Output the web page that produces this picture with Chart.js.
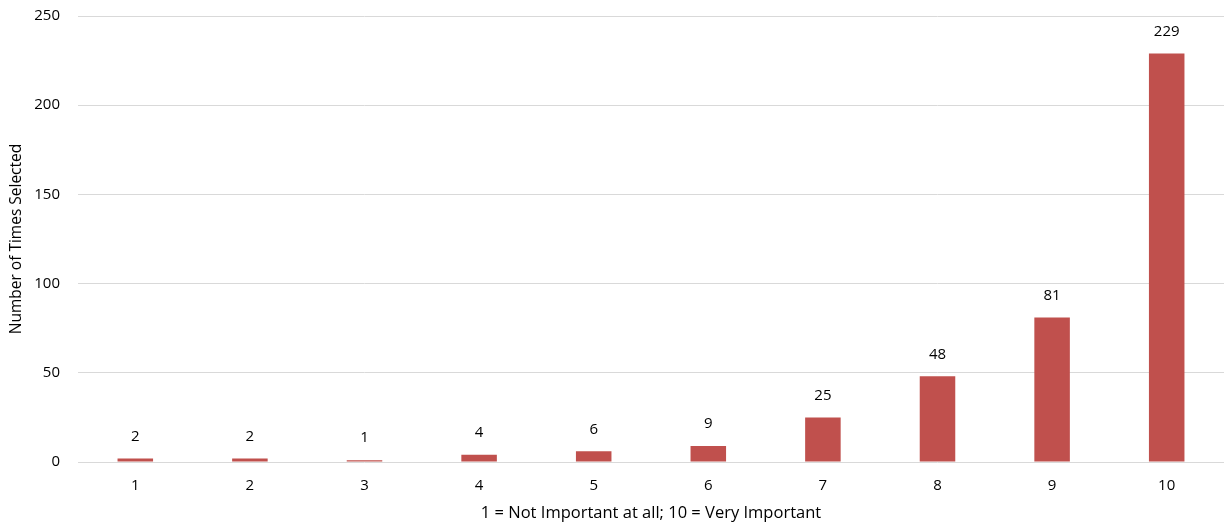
<!DOCTYPE html>
<html>
<head>
<meta charset="utf-8">
<script src="https://cdn.jsdelivr.net/npm/chart.js@4/dist/chart.umd.min.js"></script>
<style>
  html, body { margin: 0; padding: 0; background: #fff; }
  #wrap { width: 1225px; height: 525px; }
</style>
</head>
<body>
<div id="wrap"><canvas id="chart"></canvas></div>
<script>
var categories = ["1", "2", "3", "4", "5", "6", "7", "8", "9", "10"];
var timesSelected = [2, 2, 1, 4, 6, 9, 25, 48, 81, 229];
var yTicks = [0, 50, 100, 150, 200, 250];

var barColor = "#C0504D";
var textColor = "#000000";
var fontFamily = "'Open Sans', 'Liberation Sans', sans-serif";

// draw the value above each bar
var valueLabels = {
    id: "valueLabels",
    afterDatasetsDraw: function(chart) {
        var ctx = chart.ctx;
        var meta = chart.getDatasetMeta(0);
        ctx.save();
        ctx.font = "15px " + fontFamily;
        ctx.fillStyle = textColor;
        ctx.textAlign = "center";
        ctx.textBaseline = "middle";
        meta.data.forEach(function(bar, i) {
            ctx.fillText(String(timesSelected[i]), bar.x, bar.y - 22);
        });
        ctx.restore();
    }
};

var chartData = {
    labels: categories,
    datasets: [
        {
            label: "Number of Times Selected",
            data: timesSelected,
            backgroundColor: barColor,
            borderWidth: 0,
            barPercentage: 0.31,
            categoryPercentage: 1.0
        }
    ]
};

var chartOptions = {
    responsive: true,
    maintainAspectRatio: false,
    animation: false,
    layout: { padding: { top: 0, right: 1, left: 2, bottom: 2 } },
    plugins: {
        legend: { display: false },
        tooltip: { enabled: false }
    },
    scales: {
        x: {
            afterFit: function(axis) { axis.height = 61; },
            grid: { display: false, drawTicks: false },
            border: { display: false },
            ticks: { color: textColor, font: { size: 15, family: fontFamily }, padding: 15 },
            title: {
                display: true,
                text: "1 = Not Important at all; 10 = Very Important",
                color: textColor,
                font: { size: 16.5, family: fontFamily },
                padding: { top: 0, bottom: 0 }
            }
        },
        y: {
            min: 0,
            max: 250,
            afterBuildTicks: function(axis) {
                axis.ticks = yTicks.map(function(v) { return { value: v }; });
            },
            afterFit: function(axis) {
                axis.width = 76;
                axis.paddingTop = 16;
            },
            grid: { color: "#D9D9D9", lineWidth: 1, drawTicks: false },
            border: { display: false },
            ticks: { color: textColor, font: { size: 15, family: fontFamily }, padding: 18 },
            title: {
                display: true,
                text: "Number of Times Selected",
                color: textColor,
                font: { size: 15.5, family: fontFamily },
                padding: { top: 5, bottom: 0 }
            }
        }
    }
};

new Chart(document.getElementById("chart").getContext("2d"), {
    type: "bar",
    data: chartData,
    options: chartOptions,
    plugins: [valueLabels]
});
</script>
</body>
</html>
